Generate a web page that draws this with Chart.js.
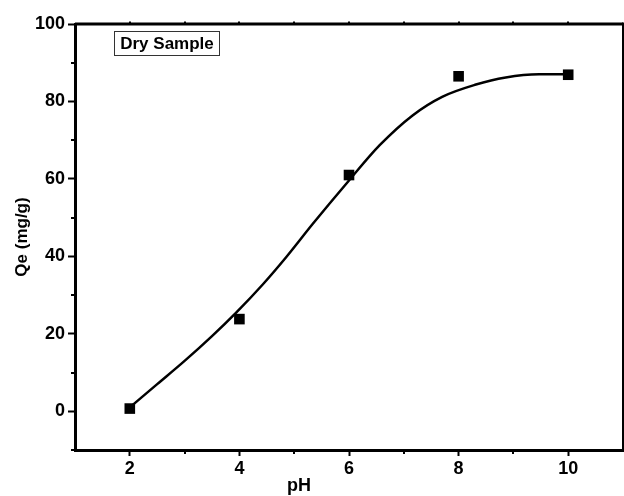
<!DOCTYPE html>
<html>
<head>
<meta charset="utf-8">
<script src="https://cdn.jsdelivr.net/npm/chart.js@4.4.0/dist/chart.umd.min.js"></script>
<style>
  html, body { margin: 0; padding: 0; background: #fff; }
  #wrap { width: 624px; height: 496px; }
</style>
</head>
<body>
<div id="wrap"><canvas id="chart" width="624" height="496"></canvas></div>
<script>
// measured points (pH vs Qe)
const phValues = [2, 4, 6, 8, 10];
const qeValues = [0.7, 23.8, 61.0, 86.5, 86.9];

// fitted curve
const fitX = [2, 2.5, 3, 3.5, 3.95, 4.43, 4.86, 5.34, 6, 6.56, 7.16, 7.7, 8.3, 8.86, 9.47, 10];
const fitY = [1.0, 7.0, 13.0, 19.4, 25.6, 32.8, 39.9, 48.4, 59.6, 68.7, 76.4, 81.2, 84.3, 86.2, 87.0, 87.0];

const xTicks = [2, 4, 6, 8, 10];
const xMinor = [3, 5, 7, 9];
const yTicks = [0, 20, 40, 60, 80, 100];
const yMinor = [-10, 10, 30, 50, 70, 90];

const sampleLabel = 'Dry Sample';
const xTitle = 'pH';
const yTitle = 'Qe (mg/g)';

const FONT = "'Liberation Sans', Arial, sans-serif";

// frame, minor ticks, label box and x title
const framePlugin = {
    id: 'frame',
    afterDraw(chart) {
        const ctx = chart.ctx;
        const area = chart.chartArea;
        const xs = chart.scales.x;
        const ys = chart.scales.y;
        ctx.save();
        ctx.strokeStyle = '#000';

        // top and right edges
        ctx.lineWidth = 3;
        ctx.beginPath();
        ctx.moveTo(area.left, area.top);
        ctx.lineTo(area.right, area.top);
        ctx.stroke();
        ctx.lineWidth = 2;
        ctx.beginPath();
        ctx.moveTo(area.right, area.top - 1.5);
        ctx.lineTo(area.right, area.bottom);
        ctx.stroke();

        // minor ticks
        ctx.lineWidth = 2;
        xMinor.forEach(v => {
            const px = Math.round(xs.getPixelForValue(v));
            ctx.beginPath();
            ctx.moveTo(px, area.bottom);
            ctx.lineTo(px, area.bottom + 4);
            ctx.stroke();
        });
        yMinor.forEach(v => {
            const py = Math.round(ys.getPixelForValue(v));
            ctx.beginPath();
            ctx.moveTo(area.left, py);
            ctx.lineTo(area.left - 4, py);
            ctx.stroke();
        });
        // small marks on top edge
        xTicks.concat(xMinor).forEach(v => {
            const px = Math.round(xs.getPixelForValue(v));
            ctx.beginPath();
            ctx.moveTo(px, area.top);
            ctx.lineTo(px, area.top - 2.5);
            ctx.stroke();
        });

        // label box
        ctx.lineWidth = 1;
        ctx.strokeStyle = '#333';
        ctx.strokeRect(114.5, 31.5, 105, 24);
        ctx.fillStyle = '#000';
        ctx.font = 'bold 17px ' + FONT;
        ctx.textAlign = 'center';
        ctx.textBaseline = 'middle';
        ctx.fillText(sampleLabel, 167, 44);

        // x title
        ctx.font = 'bold 18px ' + FONT;
        ctx.fillText(xTitle, 299, 486);
        ctx.restore();
    }
};

new Chart(document.getElementById('chart'), {
    type: 'scatter',
    data: {
        datasets: [
            {
                label: 'data',
                data: phValues.map((x, i) => ({ x: x, y: qeValues[i] })),
                pointStyle: 'rect',
                pointRadius: 7.5,
                pointHoverRadius: 7.5,
                backgroundColor: '#000',
                borderColor: '#000',
                borderWidth: 0
            },
            {
                label: 'fit',
                data: fitX.map((x, i) => ({ x: x, y: fitY[i] })),
                showLine: true,
                pointRadius: 0,
                borderColor: '#000',
                borderWidth: 2.5,
                cubicInterpolationMode: 'monotone',
                fill: false
            }
        ]
    },
    options: {
        responsive: false,
        animation: false,
        layout: {
            autoPadding: false,
            padding: { top: 24, right: 1, left: 0, bottom: 0 }
        },
        plugins: {
            legend: { display: false },
            tooltip: { enabled: false }
        },
        scales: {
            x: {
                type: 'linear',
                min: 1,
                max: 11,
                afterBuildTicks: function(scale) {
                    scale.ticks = xTicks.map(v => ({ value: v }));
                },
                afterFit: function(scale) {
                    scale.height = 46;
                    scale.paddingLeft = 0;
                    scale.paddingRight = 0;
                },
                border: { color: '#000', width: 3 },
                grid: {
                    drawOnChartArea: false,
                    drawTicks: true,
                    tickLength: 6,
                    tickWidth: 2,
                    tickColor: '#000'
                },
                ticks: {
                    color: '#000',
                    padding: 2,
                    maxRotation: 0,
                    font: { family: FONT, size: 18, weight: 'bold' }
                }
            },
            y: {
                type: 'linear',
                min: -10,
                max: 100,
                afterBuildTicks: function(scale) {
                    scale.ticks = yTicks.map(v => ({ value: v }));
                },
                afterFit: function(scale) {
                    scale.width = 75;
                    scale.paddingTop = 0;
                    scale.paddingBottom = 0;
                },
                border: { color: '#000', width: 3 },
                grid: {
                    drawOnChartArea: false,
                    drawTicks: true,
                    tickLength: 7,
                    tickWidth: 2,
                    tickColor: '#000'
                },
                ticks: {
                    color: '#000',
                    padding: 3,
                    font: { family: FONT, size: 18, weight: 'bold' }
                },
                title: {
                    display: true,
                    text: yTitle,
                    color: '#000',
                    padding: { top: 12, bottom: 0 },
                    font: { family: FONT, size: 17, weight: 'bold' }
                }
            }
        }
    },
    plugins: [framePlugin]
});
</script>
</body>
</html>
